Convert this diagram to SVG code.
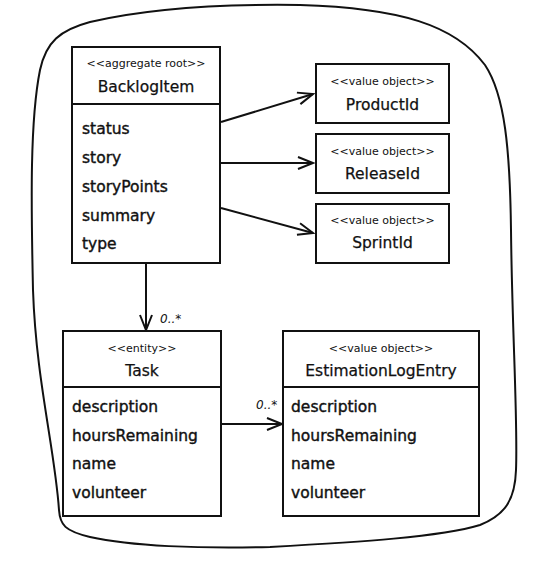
<svg xmlns="http://www.w3.org/2000/svg" width="554" height="562" viewBox="0 0 554 562">
<style>
  .box{fill:#fff;stroke:#111;stroke-width:2}
  .div{stroke:#111;stroke-width:2}
  .st{font-family:"DejaVu Sans",sans-serif;font-size:11px;fill:#111;text-anchor:middle}
  .nm{font-family:"DejaVu Sans",sans-serif;font-size:15.5px;fill:#111;text-anchor:middle;stroke:#111;stroke-width:0.25}
  .at{font-family:"DejaVu Sans",sans-serif;font-size:15.5px;fill:#111;stroke:#111;stroke-width:0.4}
  .ml{font-family:"DejaVu Sans",sans-serif;font-size:12px;font-style:italic;fill:#111}
  .cn{fill:none;stroke:#111;stroke-width:2;marker-end:url(#open)}
</style>
<defs>
  <marker id="open" markerWidth="20" markerHeight="14" refX="16" refY="7" orient="auto" markerUnits="userSpaceOnUse">
    <path d="M1,1 L16,7 L1,13" fill="none" stroke="#111" stroke-width="2"/>
  </marker>
</defs>
<rect width="554" height="562" fill="#fff"/>
<path id="boundary" d="M33 290 C31 200 30 120 40 70 C46 42 60 30 90 22 C150 8 230 4 300 5 C400 8 455 25 485 65 C505 95 510 150 511 230 C512 330 518 420 516 470 C515 500 505 515 480 525 C440 537 360 542 270 547 C200 549 130 546 90 537 C65 531 60 525 59 510 C55 450 36 380 33 290 Z" fill="none" stroke="#111" stroke-width="2"/>
<g id="connectors">
  <line class="cn" x1="221" y1="122" x2="313" y2="94"/>
  <line class="cn" x1="221" y1="163" x2="313" y2="163"/>
  <line class="cn" x1="221" y1="208" x2="313" y2="233"/>
  <line class="cn" x1="146" y1="263" x2="146" y2="330"/>
  <text class="ml" x="160" y="323">0..*</text>
  <line class="cn" x1="221" y1="424" x2="282" y2="424"/>
  <text class="ml" x="256" y="409">0..*</text>
</g>
<g id="BacklogItem">
  <rect class="box" x="72" y="47" width="148" height="216"/>
  <line class="div" x1="72" y1="104" x2="220" y2="104"/>
  <text class="st" x="146" y="67">&lt;&lt;aggregate root&gt;&gt;</text>
  <text class="nm" x="146" y="92">BacklogItem</text>
  <text class="at" x="82" y="134">status</text>
  <text class="at" x="82" y="163">story</text>
  <text class="at" x="82" y="192">storyPoints</text>
  <text class="at" x="82" y="221">summary</text>
  <text class="at" x="82" y="249">type</text>
</g>
<g id="ProductId">
  <rect class="box" x="316" y="64" width="133" height="59"/>
  <text class="st" x="382.5" y="85">&lt;&lt;value object&gt;&gt;</text>
  <text class="nm" x="382.5" y="110">ProductId</text>
</g>
<g id="ReleaseId">
  <rect class="box" x="316" y="134" width="133" height="59"/>
  <text class="st" x="382.5" y="155">&lt;&lt;value object&gt;&gt;</text>
  <text class="nm" x="382.5" y="179">ReleaseId</text>
</g>
<g id="SprintId">
  <rect class="box" x="316" y="204" width="133" height="59"/>
  <text class="st" x="382.5" y="224">&lt;&lt;value object&gt;&gt;</text>
  <text class="nm" x="382.5" y="248">SprintId</text>
</g>
<g id="Task">
  <rect class="box" x="63" y="331" width="158" height="185"/>
  <line class="div" x1="63" y1="387" x2="221" y2="387"/>
  <text class="st" x="142" y="352">&lt;&lt;entity&gt;&gt;</text>
  <text class="nm" x="142" y="376">Task</text>
  <text class="at" x="72" y="412">description</text>
  <text class="at" x="72" y="441">hoursRemaining</text>
  <text class="at" x="72" y="469">name</text>
  <text class="at" x="72" y="498">volunteer</text>
</g>
<g id="EstimationLogEntry">
  <rect class="box" x="283" y="331" width="196" height="185"/>
  <line class="div" x1="283" y1="387" x2="479" y2="387"/>
  <text class="st" x="381" y="352">&lt;&lt;value object&gt;&gt;</text>
  <text class="nm" x="381" y="376">EstimationLogEntry</text>
  <text class="at" x="291" y="412">description</text>
  <text class="at" x="291" y="441">hoursRemaining</text>
  <text class="at" x="291" y="469">name</text>
  <text class="at" x="291" y="498">volunteer</text>
</g>
</svg>
